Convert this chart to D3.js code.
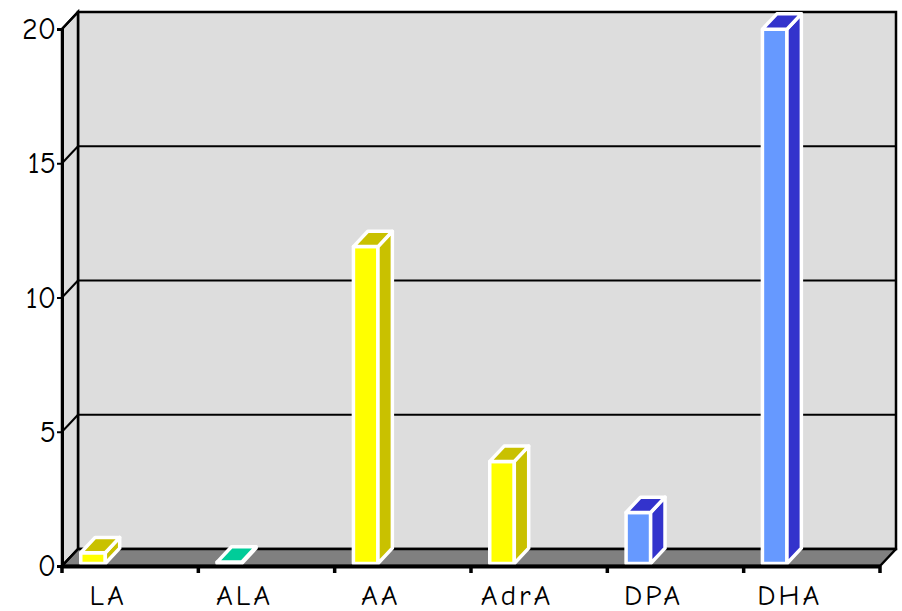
<!DOCTYPE html>
<html>
<head>
<meta charset="utf-8">
<script src="https://cdn.jsdelivr.net/npm/d3@7"></script>
<style>
  body { margin: 0; background: #fff; }
  text { font-family: "Comic Sans MS", "Comic Neue", Lato, "DejaVu Sans", sans-serif; }
</style>
</head>
<body>
<svg id="chart" width="902" height="611"></svg>
<script>
// data
let categories = ["LA", "ALA", "AA", "AdrA", "DPA", "DHA"]
let values = [0.4, 0.05, 11.8, 3.8, 1.9, 19.9]
let faceColors = ["#ffff00", "#33ffcc", "#ffff00", "#ffff00", "#6699ff", "#6699ff"]
let shadeColors = ["#c9c100", "#00cc99", "#c9c100", "#c9c100", "#3333cc", "#3333cc"]
let yTicks = [0, 5, 10, 15, 20]
let title = "Fatty acid composition, % by weight (mg/g)"

let svg = d3.select("#chart")

// oblique depth of the 3D box
let depthX = 16, depthY = 17
const proj = (x, y, t) => [x + depthX * t, y - depthY * t]

let x = d3.scaleBand().domain(categories).range([62, 880]).padding(0)
let y = d3.scaleLinear().domain([0, 20]).range([566, 29])

let x0 = x.range()[0], x1 = x.range()[1]
let yBottom = y(0), yTop = y(20)

// title (cut off at the top of the picture)
svg.append("text")
  .attr("x", 486)
  .attr("y", -5)
  .attr("text-anchor", "middle")
  .attr("font-size", "28px")
  .text(title)

const poly = (pts) => pts.map(p => p.join(",")).join(" ")

// back wall
svg.append("polygon")
  .attr("points", poly([proj(x0, yTop, 1), proj(x1, yTop, 1), proj(x1, yBottom, 1), proj(x0, yBottom, 1)]))
  .attr("fill", "#dddddd")
  .attr("stroke", "black")
  .attr("stroke-width", 2.5)

// left wall
svg.append("polygon")
  .attr("points", poly([proj(x0, yTop, 0), proj(x0, yTop, 1), proj(x0, yBottom, 1), proj(x0, yBottom, 0)]))
  .attr("fill", "#dddddd")
  .attr("stroke", "black")
  .attr("stroke-width", 2.5)

// floor
svg.append("polygon")
  .attr("points", poly([proj(x0, yBottom, 0), proj(x0, yBottom, 1), proj(x1, yBottom, 1), proj(x1, yBottom, 0)]))
  .attr("fill", "#808080")
  .attr("stroke", "black")
  .attr("stroke-width", 2.5)
  .attr("stroke-linejoin", "round")

// gridlines on the back wall and their diagonals on the left wall
yTicks.filter(v => v > 0 && v < 20).forEach(v => {
  let a = proj(x0, y(v), 1), b = proj(x1, y(v), 1)
  svg.append("line")
    .attr("x1", a[0]).attr("y1", a[1]).attr("x2", b[0]).attr("y2", b[1])
    .attr("stroke", "black").attr("stroke-width", 2)
})
yTicks.forEach(v => {
  let a = proj(x0, y(v), 0), b = proj(x0, y(v), 1)
  svg.append("line")
    .attr("x1", a[0]).attr("y1", a[1]).attr("x2", b[0]).attr("y2", b[1])
    .attr("stroke", "black").attr("stroke-width", 2)
})

// 3D bars
let t0 = 0.15, t1 = 1.05
let bw = x.bandwidth()
let bars = svg.append("g")
categories.forEach((c, i) => {
  let xl = x(c) + bw * 0.12
  let xr = xl + bw * 0.18
  let yt = y(values[i])
  let front = [proj(xl, yt, t0), proj(xr, yt, t0), proj(xr, yBottom, t0), proj(xl, yBottom, t0)]
  let side = [proj(xr, yt, t0), proj(xr, yt, t1), proj(xr, yBottom, t1), proj(xr, yBottom, t0)]
  let top = [proj(xl, yt, t0), proj(xl, yt, t1), proj(xr, yt, t1), proj(xr, yt, t0)]
  let g = bars.append("g")
    .attr("stroke", "white")
    .attr("stroke-width", 3.5)
    .attr("stroke-linejoin", "round")
  g.append("polygon").attr("points", poly(front)).attr("fill", faceColors[i])
  g.append("polygon").attr("points", poly(side)).attr("fill", shadeColors[i])
  g.append("polygon").attr("points", poly(top)).attr("fill", shadeColors[i])
})

// y axis on the front edge
let yAxis = svg.append("g")
  .attr("transform", "translate(" + x0 + ",0)")
  .call(d3.axisLeft(y).tickValues(yTicks).tickSize(5).tickPadding(1).tickFormat(d3.format("d")))
yAxis.select(".domain").attr("stroke", "black").attr("stroke-width", 3)
yAxis.selectAll(".tick line").attr("stroke", "black").attr("stroke-width", 2)
yAxis.selectAll(".tick text")
  .attr("font-size", "30px")
  .attr("font-family", null)
  .attr("fill", "black")

// x axis on the front edge
let xAxis = svg.append("g")
  .attr("transform", "translate(0," + yBottom + ")")
  .call(d3.axisBottom(x).tickSize(0).tickFormat(""))
xAxis.select(".domain").attr("stroke", "black").attr("stroke-width", 4)
xAxis.selectAll(".tick").remove()

// tick marks on category boundaries
let bounds = categories.map(c => x(c)).concat([x1])
svg.append("g").selectAll("line")
  .data(bounds)
  .enter()
  .append("line")
  .attr("x1", d => d).attr("x2", d => d)
  .attr("y1", yBottom).attr("y2", yBottom + 7)
  .attr("stroke", "black")
  .attr("stroke-width", 3.5)

svg.append("g").selectAll("text")
  .data(categories)
  .enter()
  .append("text")
  .attr("x", d => x(d) + bw / 2 - 22)
  .attr("y", 605)
  .attr("text-anchor", "middle")
  .attr("font-size", "29px")
  .attr("letter-spacing", "3px")
  .text(d => d)
</script>
</body>
</html>
